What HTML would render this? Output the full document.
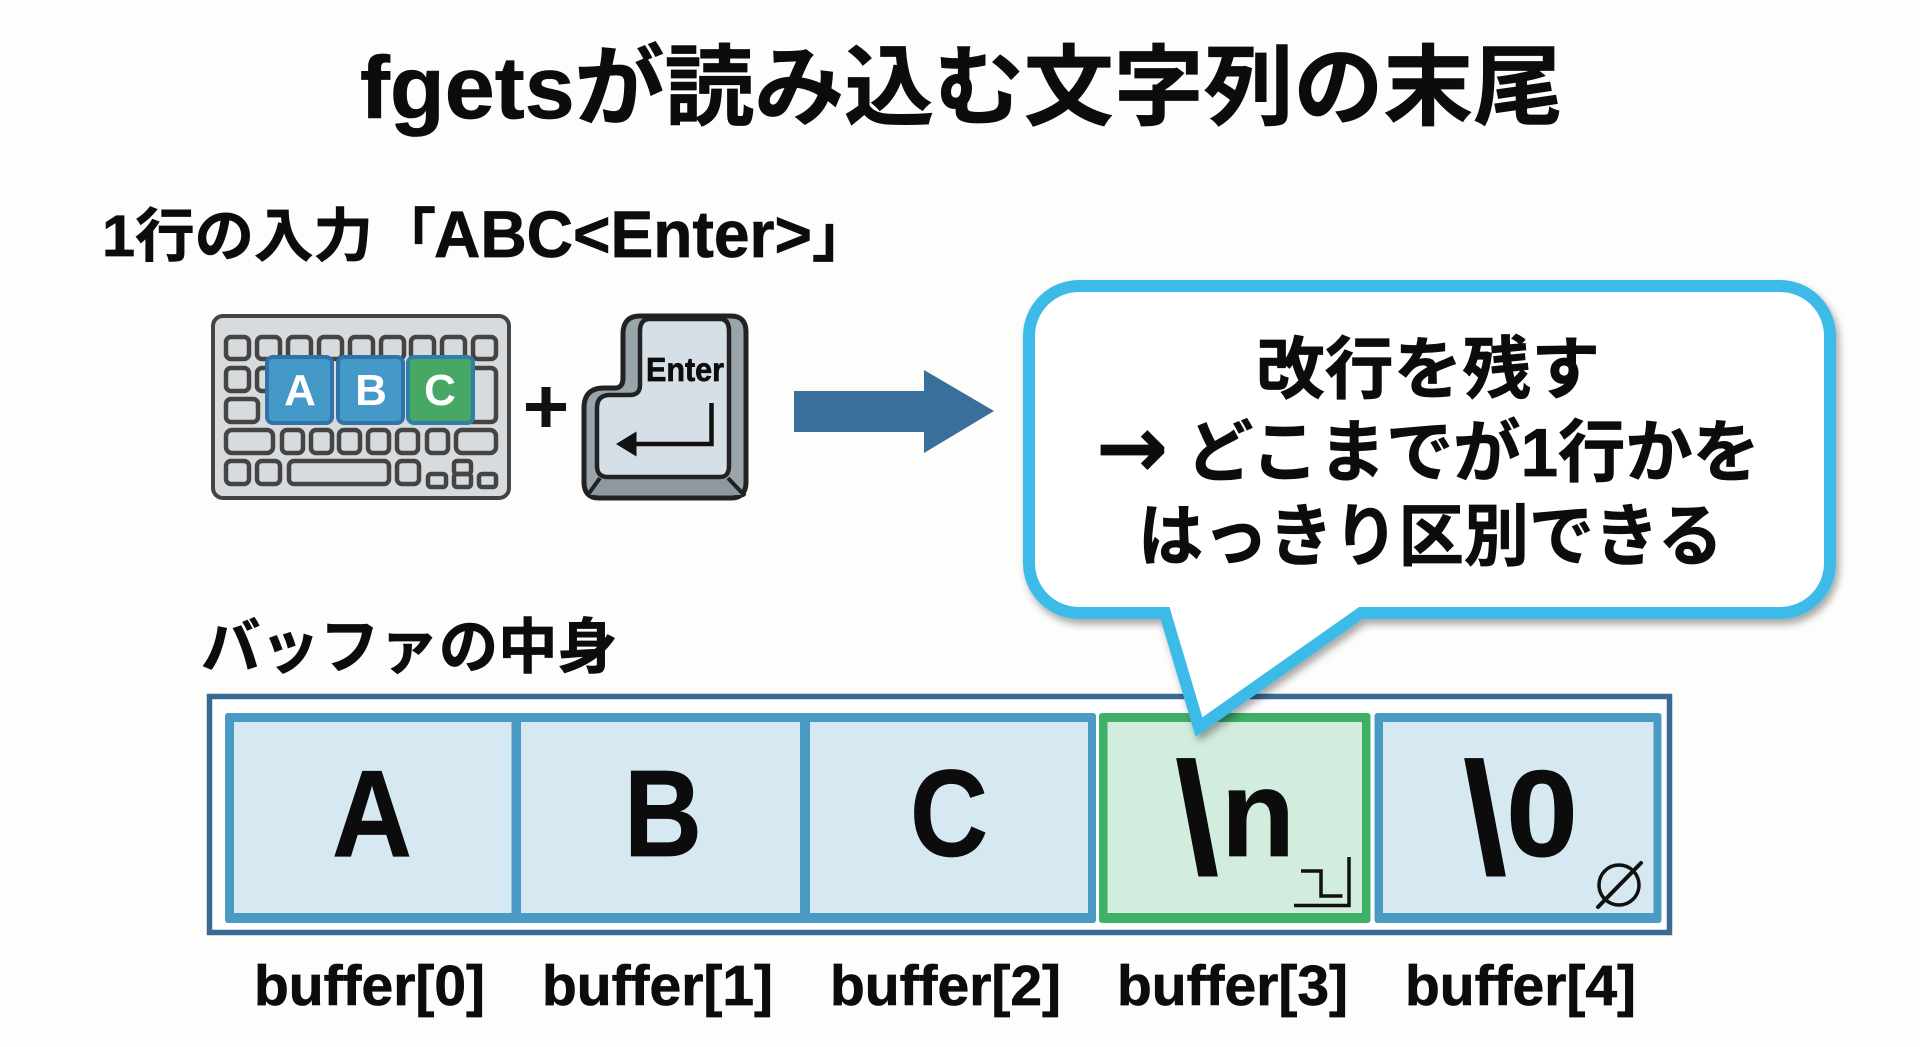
<!DOCTYPE html>
<html lang="ja">
<head>
<meta charset="utf-8">
<title>fgetsが読み込む文字列の末尾</title>
<style>
html,body{margin:0;padding:0;width:1920px;height:1047px;overflow:hidden;background:#fdfdfb}
svg{display:block}
text{font-family:"Liberation Sans","Noto Sans CJK JP",sans-serif;font-weight:700;fill:#0c0c0c;stroke:#0c0c0c;stroke-width:.7px}
.k rect{fill:none;stroke:#444;stroke-width:4.5}
</style>
</head>
<body>
<svg width="1920" height="1047" viewBox="0 0 1920 1047" xmlns="http://www.w3.org/2000/svg">
<defs>
<filter id="sh" x="-5%" y="-5%" width="110%" height="115%">
<feDropShadow dx="3" dy="5" stdDeviation="4" flood-color="#000" flood-opacity=".35"/>
</filter>
</defs>
<rect width="1920" height="1047" fill="#fdfdfb"/>

<text x="360" y="118" font-size="88" textLength="1203" lengthAdjust="spacingAndGlyphs">fgetsが読み込む文字列の末尾</text>

<text x="102" y="256" font-size="58" textLength="271" lengthAdjust="spacingAndGlyphs">1行の入力</text>
<text x="378" y="256" font-size="58">「</text>
<text x="434" y="257" font-size="66" textLength="378" lengthAdjust="spacingAndGlyphs">ABC&lt;Enter&gt;</text>
<text x="812" y="256" font-size="58">」</text>

<!-- keyboard -->
<rect x="213" y="316" width="296" height="182" rx="10" fill="#d8dbdd" stroke="#444" stroke-width="4"/>
<g class="k">
<rect x="226" y="337" width="23" height="22" rx="5"/><rect x="257" y="337" width="23" height="22" rx="5"/><rect x="288" y="337" width="23" height="22" rx="5"/><rect x="319" y="337" width="23" height="22" rx="5"/><rect x="350" y="337" width="23" height="22" rx="5"/><rect x="381" y="337" width="23" height="22" rx="5"/><rect x="411" y="337" width="23" height="22" rx="5"/><rect x="442" y="337" width="23" height="22" rx="5"/><rect x="473" y="337" width="23" height="22" rx="5"/>
<rect x="226" y="368" width="23" height="23" rx="5"/><rect x="257" y="368" width="23" height="23" rx="5"/>
<rect x="460" y="368" width="36" height="54" rx="5"/>
<rect x="226" y="399" width="32" height="23" rx="5"/>
<rect x="226" y="430" width="47" height="23" rx="6"/><rect x="282" y="430" width="21" height="23" rx="5"/><rect x="311" y="430" width="21" height="23" rx="5"/><rect x="339" y="430" width="21" height="23" rx="5"/><rect x="368" y="430" width="21" height="23" rx="5"/><rect x="397" y="430" width="21" height="23" rx="5"/><rect x="427" y="430" width="21" height="23" rx="5"/><rect x="456" y="430" width="40" height="23" rx="6"/>
<rect x="226" y="461" width="23" height="23" rx="5"/><rect x="257" y="461" width="23" height="23" rx="5"/><rect x="289" y="461" width="100" height="23" rx="5"/><rect x="397" y="461" width="22" height="23" rx="5"/>
<rect x="428" y="474" width="18" height="13" rx="3"/><rect x="454" y="461" width="17" height="13" rx="3"/><rect x="454" y="474" width="17" height="13" rx="3"/><rect x="479" y="474" width="17" height="13" rx="3"/>
</g>
<rect x="267" y="357" width="65" height="66" rx="6" fill="#4499c9" stroke="#2f73aa" stroke-width="4"/>
<rect x="338" y="357" width="65" height="66" rx="6" fill="#4499c9" stroke="#2f73aa" stroke-width="4"/>
<rect x="408" y="357" width="65" height="66" rx="6" fill="#47a865" stroke="#2f7fa8" stroke-width="4"/>
<text x="300" y="405" font-size="44" text-anchor="middle" style="fill:#fff;stroke:none">A</text>
<text x="371" y="405" font-size="44" text-anchor="middle" style="fill:#fff;stroke:none">B</text>
<text x="440" y="405" font-size="44" text-anchor="middle" style="fill:#fff;stroke:none">C</text>

<!-- plus -->
<rect x="526" y="403" width="40" height="8" fill="#111"/>
<rect x="541.500" y="387" width="9" height="40" fill="#111"/>

<!-- enter key -->
<path d="M640 316H731Q746 316 746 332V482Q746 498 731 498H599Q584 498 584 482V408Q584 388 604 388H615Q623 388 623 378V334Q623 316 640 316Z" fill="#9aa4ab" stroke="#222" stroke-width="5"/>
<path d="M600 478L588 495H743L728 478Z" fill="#8d989f"/>
<path d="M600 478L587 496M728 478L745 496" stroke="#222" stroke-width="4" fill="none"/>
<path d="M650 319H720Q729 319 729 331V466Q729 477 720 477H608Q597 477 597 466V408Q597 395 610 395H630Q640 395 640 385V331Q640 319 650 319Z" fill="#d7dfe6" stroke="#222" stroke-width="4.500"/>
<text x="646" y="381" font-size="33" textLength="78" lengthAdjust="spacingAndGlyphs">Enter</text>
<path d="M711.500 403V444H632" fill="none" stroke="#111" stroke-width="4.500"/>
<path d="M616 444L636.500 431.500V456.500Z" fill="#111"/>

<!-- big arrow -->
<path d="M794 391H924V370L994 411L924 453V432H794Z" fill="#3a6e9b"/>

<text x="201" y="668" font-size="60" textLength="416" lengthAdjust="spacingAndGlyphs">バッファの中身</text>

<!-- buffer -->
<rect x="209.500" y="696.500" width="1460" height="236" fill="#fff" stroke="#3a6a94" stroke-width="5.500"/>
<rect x="225" y="713" width="871" height="210" rx="3" fill="#4a9bc4"/>
<rect x="234" y="722" width="277.500" height="191" fill="#d6e8f1"/>
<rect x="521" y="722" width="279" height="191" fill="#d6e8f1"/>
<rect x="810" y="722" width="278" height="191" fill="#d6e8f1"/>
<rect x="1099" y="713" width="271.500" height="210" rx="3" fill="#3fb068"/>
<rect x="1107.500" y="722" width="254.500" height="191" fill="#d2eddd"/>
<rect x="1374.500" y="713" width="287" height="210" rx="3" fill="#4a9bc4"/>
<rect x="1383" y="722" width="270.500" height="191" fill="#d6e8f1"/>

<text x="332" y="856" font-size="123" textLength="80" lengthAdjust="spacingAndGlyphs">A</text>
<text x="624" y="856" font-size="123" textLength="78" lengthAdjust="spacingAndGlyphs">B</text>
<text x="910" y="856" font-size="123" textLength="78" lengthAdjust="spacingAndGlyphs">C</text>
<text x="1175" y="873" font-size="158">\</text>
<text x="1221" y="856" font-size="123" textLength="74" lengthAdjust="spacingAndGlyphs">n</text>
<text x="1463" y="873" font-size="158">\</text>
<text x="1506" y="856" font-size="123" textLength="72" lengthAdjust="spacingAndGlyphs">0</text>

<path d="M1294 905.500H1349V857M1301 871H1321V896H1342.500" fill="none" stroke="#111" stroke-width="3.500"/>
<ellipse cx="1619" cy="885" rx="20" ry="20" fill="none" stroke="#111" stroke-width="3.500"/>
<path d="M1598 907L1641 863" stroke="#111" stroke-width="4" stroke-linecap="round"/>

<!-- labels -->
<text x="254" y="1005" font-size="57" textLength="231" lengthAdjust="spacingAndGlyphs">buffer[0]</text>
<text x="542" y="1005" font-size="57" textLength="231" lengthAdjust="spacingAndGlyphs">buffer[1]</text>
<text x="830" y="1005" font-size="57" textLength="231" lengthAdjust="spacingAndGlyphs">buffer[2]</text>
<text x="1117" y="1005" font-size="57" textLength="231" lengthAdjust="spacingAndGlyphs">buffer[3]</text>
<text x="1405" y="1005" font-size="57" textLength="231" lengthAdjust="spacingAndGlyphs">buffer[4]</text>

<!-- callout -->
<path d="M1079 286H1780A50 50 0 0 1 1830 336V563A50 50 0 0 1 1780 613H1361L1199 727L1165 613H1079A50 50 0 0 1 1029 563V336A50 50 0 0 1 1079 286Z" fill="#fff" stroke="#3dbbe8" stroke-width="12" stroke-linejoin="miter" filter="url(#sh)"/>
<text x="1256" y="393" font-size="68" textLength="344" lengthAdjust="spacingAndGlyphs">改行を残す</text>
<text x="1096" y="477" font-size="86" style="font-family:'DejaVu Sans',sans-serif">→</text>
<text x="1186" y="476" font-size="68" textLength="574" lengthAdjust="spacingAndGlyphs">どこまでが1行かを</text>
<text x="1138" y="560" font-size="68" textLength="585" lengthAdjust="spacingAndGlyphs">はっきり区別できる</text>
</svg>
</body>
</html>
